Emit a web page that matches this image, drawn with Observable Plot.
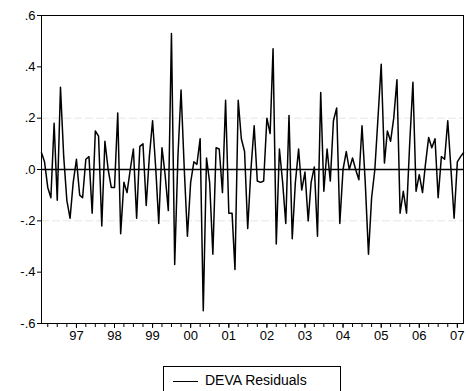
<!DOCTYPE html>
<html>
<head>
<meta charset="utf-8">
<script src="https://cdn.jsdelivr.net/npm/d3@7"></script>
<script src="https://cdn.jsdelivr.net/npm/@observablehq/plot@0.6"></script>
<style>
  html, body { margin: 0; padding: 0; background: #fff; }
  #wrap { position: relative; width: 466px; height: 391px; overflow: hidden; font-family: "Liberation Sans", Arial, sans-serif; }
  #legend { position: absolute; left: 163px; top: 366px; width: 178px; height: 34px; border: 1px solid #000; box-sizing: border-box; }
  #legend .sw { position: absolute; left: 9px; top: 14px; width: 25px; height: 0; border-top: 1.3px solid #000; }
  #legend .lab { position: absolute; left: 41px; top: 5px; font-size: 14px; color: #000; white-space: nowrap; }
</style>
</head>
<body>
<div id="wrap"><div id="chart"></div>
<div id="legend"><div class="sw"></div><div class="lab">DEVA Residuals</div></div>
</div>
<script>
// Monthly residuals, 1996M02 .. 2007M03
const startYear = 1996, startMonth = 2;
const residuals = [
  0.065, 0.03, -0.07, -0.11, 0.18, -0.12, 0.32, 0.05, -0.12, -0.19,
  -0.05, 0.04, -0.10, -0.11, 0.04, 0.05, -0.17, 0.15, 0.13, -0.22,
  0.11, 0.0, -0.07, -0.07, 0.22, -0.25, -0.05, -0.09, 0.0, 0.08,
  -0.19, 0.09, 0.10, -0.14, 0.05, 0.19, 0.0, -0.21, 0.085, -0.02,
  -0.16, 0.53, -0.37, 0.05, 0.31, 0.0, -0.26, -0.05, 0.03, 0.02,
  0.12, -0.55, 0.045, -0.05, -0.33, 0.085, 0.08, -0.09, 0.27, -0.17,
  -0.17, -0.39, 0.27, 0.12, 0.07, -0.23, 0.0, 0.17, -0.045, -0.05,
  -0.045, 0.2, 0.14, 0.47, -0.29, 0.08, -0.05, -0.21, 0.21, -0.27,
  -0.05, 0.08, -0.08, -0.01, -0.2, -0.05, 0.01, -0.26, 0.30, -0.085,
  0.08, -0.045, 0.19, 0.24, -0.21, 0.0, 0.07, 0.0, 0.045, 0.0,
  -0.04, 0.17, -0.05, -0.33, -0.11, 0.0, 0.2, 0.41, 0.025, 0.15,
  0.11, 0.2, 0.35, -0.17, -0.085, -0.17, 0.1, 0.34, -0.085, -0.02,
  -0.09, 0.02, 0.125, 0.085, 0.12, -0.11, 0.05, 0.04, 0.19, 0.0,
  -0.19, 0.03, 0.05, 0.065
];
const yearTicks = [1997, 1998, 1999, 2000, 2001, 2002, 2003, 2004, 2005, 2006, 2007];
const yearLabels = ["97", "98", "99", "00", "01", "02", "03", "04", "05", "06", "07"];
const yTicks = [-0.6, -0.4, -0.2, 0, 0.2, 0.4, 0.6];
const yTickLabels = ["-.6", "-.4", "-.2", ".0", ".2", ".4", ".6"];
const guideLevels = [0.2, -0.2];

const data = residuals.map((v, i) => ({date: new Date(Date.UTC(startYear, startMonth - 1 + i, 1)), value: v}));
const first = data[0].date, last = data[data.length - 1].date;
const quarterTicks = d3.utcMonth.every(3).range(new Date(Date.UTC(1996, 3, 1)), new Date(Date.UTC(2007, 3, 2)));
const yearDates = yearTicks.map(y => new Date(Date.UTC(y, 0, 1)));
const yearLabelMap = new Map(yearDates.map((d, i) => [+d, yearLabels[i]]));
const yLabelMap = new Map(yTicks.map((t, i) => [t, yTickLabels[i]]));

const chart = Plot.plot({
  width: 466,
  height: 360,
  marginLeft: 41,
  marginRight: 3,
  marginTop: 15,
  marginBottom: 37,
  style: {fontFamily: "'Liberation Sans', Arial, sans-serif", fontSize: "13px", color: "#000", background: "#fff"},
  x: {type: "utc", domain: [first, last]},
  y: {domain: [-0.6, 0.6]},
  marks: [
    Plot.ruleY(guideLevels, {stroke: "#e6e6e6", strokeWidth: 1, strokeDasharray: "8,3"}),
    Plot.ruleY([0], {stroke: "#000", strokeWidth: 1.6}),
    Plot.line(data, {x: "date", y: "value", stroke: "#000", strokeWidth: 1.5}),
    Plot.frame({stroke: "#000", strokeWidth: 1}),
    Plot.axisX({ticks: quarterTicks, tickSize: 4, tickFormat: () => "", label: null}),
    Plot.axisX({ticks: yearDates, tickSize: 5, tickPadding: 2, tickFormat: d => yearLabelMap.get(+d), label: null, fontSize: 13}),
    Plot.axisY({ticks: yTicks, tickSize: 4, tickPadding: 2, tickFormat: d => yLabelMap.get(Math.round(d * 10) / 10), label: null, fontSize: 13})
  ]
});
document.getElementById("chart").appendChild(chart);
</script>
</body>
</html>
